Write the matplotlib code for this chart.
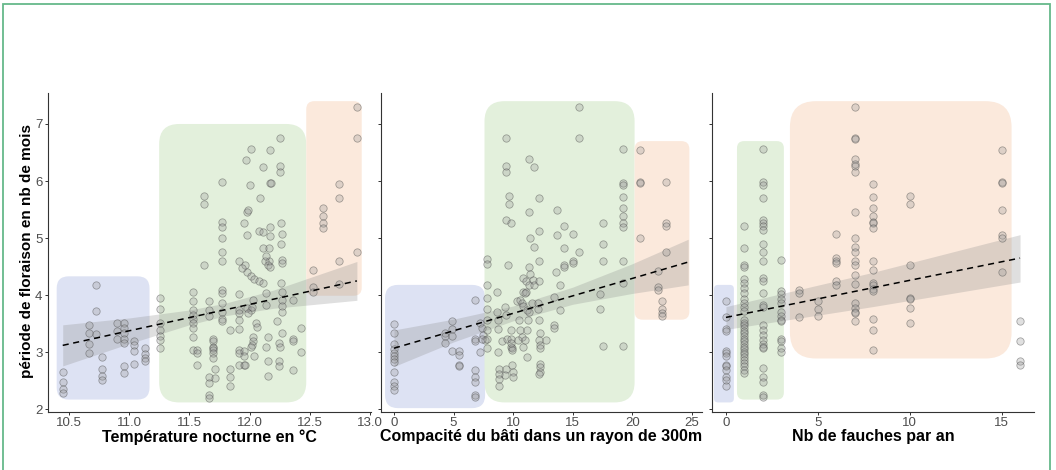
import numpy as np
import matplotlib
matplotlib.use('Agg')
import matplotlib.pyplot as plt
from matplotlib.patches import FancyBboxPatch, Rectangle

plt.rcParams['font.family'] = ['Liberation Sans', 'DejaVu Sans']

# --- Temperature nocturne (°C) vs periode de floraison (mois) ---
temp_x = [10.45, 10.45, 10.45, 10.45,
          10.73, 10.73, 10.73,
          10.67, 10.67, 10.67, 10.67,
          10.78, 10.78, 10.78, 10.78,
          10.90, 10.90, 10.90,
          10.96, 10.96, 10.96, 10.96, 10.96, 10.96, 10.96,
          11.04, 11.04, 11.04, 11.04,
          11.13, 11.13, 11.13, 11.13,
          11.26, 11.26, 11.26, 11.26, 11.26, 11.26, 11.26,
          11.53, 11.53, 11.53, 11.53, 11.53, 11.53, 11.53, 11.53, 11.53,
          11.56, 11.56, 11.56,
          11.62, 11.62, 11.62,
          11.66, 11.66, 11.66, 11.66, 11.66, 11.66, 11.66,
          11.70, 11.70, 11.70, 11.70, 11.70, 11.70, 11.70, 11.71, 11.71,
          11.77, 11.77, 11.77, 11.77, 11.77, 11.77, 11.77, 11.77, 11.77, 11.77, 11.77, 11.77,
          11.84, 11.84, 11.84, 11.84,
          11.91, 11.91, 11.91, 11.91, 11.91, 11.91, 11.91, 11.91, 11.91,
          11.97, 12.01, 12.00, 11.98, 11.99, 11.95, 11.98, 12.09, 12.08,
          11.96, 11.98, 12.01, 12.04, 12.08, 12.11, 11.94,
          11.98, 12.01, 12.03, 12.02, 11.99, 12.05, 12.06, 12.03, 12.03, 12.02, 12.01,
          11.95, 11.95, 11.95, 11.96, 12.04,
          12.11, 12.17, 12.17, 12.18, 12.11, 12.11, 12.16, 12.17, 12.17, 12.16,
          12.13, 12.14, 12.15, 12.17, 12.14, 12.14, 12.15, 12.14, 12.15, 12.15,
          12.25, 12.25, 12.25, 12.26, 12.27, 12.26, 12.27, 12.27, 12.26, 12.27,
          12.27, 12.27, 12.27, 12.23, 12.27, 12.24, 12.25, 12.24, 12.24,
          12.36, 12.36, 12.36, 12.36, 12.43, 12.43,
          12.53, 12.53, 12.53, 12.61, 12.61, 12.61, 12.61,
          12.74, 12.74, 12.74, 12.74, 12.89, 12.89, 12.89]
temp_y = [2.66, 2.47, 2.35, 2.29,
          4.17, 3.73, 3.32,
          3.48, 3.33, 3.14, 2.98,
          2.91, 2.70, 2.58, 2.51,
          3.52, 3.38, 3.24,
          3.51, 3.42, 3.33, 3.24, 3.16, 2.75, 2.63,
          3.20, 3.12, 3.03, 2.79,
          3.07, 2.97, 2.89, 2.84,
          3.95, 3.76, 3.52, 3.39, 3.29, 3.21, 3.07,
          4.06, 3.90, 3.74, 3.65, 3.58, 3.51, 3.42, 3.27, 3.04,
          3.04, 2.99, 2.78,
          5.73, 5.60, 4.53,
          3.89, 3.74, 3.64, 2.57, 2.46, 2.25, 2.19,
          3.23, 3.19, 3.10, 3.07, 3.04, 2.99, 2.89, 2.71, 2.54,
          5.98, 5.28, 5.20, 5.00, 4.75, 4.59, 4.09, 4.03, 3.86, 3.71, 3.59, 3.54,
          3.39, 2.70, 2.56, 2.40,
          4.60, 4.02, 3.74, 3.68, 3.57, 3.40, 3.04, 2.98, 2.78,
          6.37, 6.56, 5.93, 5.46, 5.50, 5.27, 5.06, 5.70, 5.13,
          4.53, 4.41, 4.33, 4.28, 4.24, 4.21, 4.47,
          3.78, 3.74, 3.92, 3.80, 3.68, 3.52, 3.45, 3.27, 3.20, 3.13, 3.10,
          3.02, 2.93, 2.78, 2.78, 2.93,
          6.25, 6.54, 5.97, 5.96, 5.11, 4.82, 4.82, 5.20, 5.03, 4.59,
          4.59, 4.68, 4.53, 4.50, 4.03, 3.83, 3.27, 3.10, 2.84, 2.58,
          6.75, 6.26, 6.15, 5.26, 5.07, 4.89, 4.62, 4.56, 4.21, 4.06,
          3.92, 3.81, 3.71, 3.55, 3.33, 3.16, 3.10, 2.84, 2.76,
          3.92, 3.23, 3.20, 2.69, 3.42, 3.01,
          4.44, 4.15, 4.06, 5.52, 5.39, 5.27, 5.17,
          5.95, 5.71, 4.59, 4.20, 7.29, 6.75, 4.76]
# linear trend and its 95% band
temp_fit_x = [10.45, 11.0, 11.5, 11.8, 12.2, 12.89]
temp_fit_lo = [2.76, 3.15, 3.48, 3.64, 3.77, 3.91]
temp_fit_hi = [3.48, 3.60, 3.74, 3.86, 4.09, 4.59]
temp_fit_line = [3.12, 4.25]

# --- Compacite du bati (rayon 300 m) ---
bati_x = [0, 0, 0, 0, 0, 0, 0, 0, 0, 0, 0, 0,
          4.28, 4.28, 4.28,
          4.84, 4.84, 4.84, 4.84,
          5.49, 5.49, 5.49, 5.49,
          6.80, 6.80, 6.80, 6.80, 6.80, 6.80, 6.80, 6.80,
          7.20, 7.35, 7.50, 7.60, 7.35, 7.20,
          7.84, 7.84, 7.84, 7.84, 7.84, 7.84, 7.84, 7.84, 7.84,
          8.68, 8.62, 8.75, 8.75, 8.75,
          8.85, 8.85, 8.85, 8.85,
          9.38, 9.38, 9.38, 9.66, 9.66, 9.38, 9.82, 9.60,
          9.32, 9.40, 9.10, 9.45, 9.40, 9.30,
          9.80, 9.85, 9.85, 9.90, 9.90, 9.85,
          9.90, 9.99, 9.99,
          10.30, 10.50, 10.58, 10.72, 10.44, 10.80, 11.14, 11.00, 11.14, 11.28,
          11.31, 11.42, 11.70, 10.86, 11.08, 11.33, 11.78, 10.86, 11.08, 11.00,
          10.58, 10.72, 10.86, 11.14, 11.56, 11.36, 12.10, 12.10,
          11.31, 11.75, 12.20, 11.31, 12.20, 11.42, 11.75, 12.20, 12.20, 12.20,
          12.26, 12.15, 12.30, 12.30, 12.26, 12.30, 12.30, 12.20,
          12.76, 13.40, 13.40,
          13.71, 13.71, 14.30, 14.30, 15.06, 15.56, 15.00, 15.00, 14.27, 14.27,
          13.60, 13.46, 13.94, 13.94, 15.56, 15.56,
          17.57, 17.57, 17.57, 17.30, 17.30, 17.57,
          19.20, 19.20, 19.20, 19.20, 19.20, 19.20, 19.20, 19.20, 19.20, 19.20, 19.20,
          20.68, 20.68, 20.68, 20.68,
          22.84, 22.84, 22.84, 22.84,
          22.20, 22.20, 22.20,
          22.50, 22.50, 22.50, 22.50]
bati_y = [3.49, 3.34, 3.14, 3.05, 2.98, 2.93, 2.88, 2.82, 2.66, 2.47, 2.40, 2.33,
          3.34, 3.29, 3.17,
          3.55, 3.40, 3.29, 3.03,
          3.02, 2.95, 2.78, 2.76,
          3.92, 3.23, 3.20, 2.69, 2.56, 2.47, 2.25, 2.22,
          3.52, 3.42, 3.30, 3.21, 3.23, 3.01,
          4.63, 4.55, 4.18, 3.95, 3.75, 3.57, 3.39, 3.24, 3.07,
          4.06, 3.71, 3.57, 3.40, 3.01,
          2.70, 2.62, 2.53, 2.40,
          6.75, 6.27, 6.15, 5.73, 5.60, 5.31, 5.27, 4.52,
          3.80, 3.65, 3.19, 3.24, 2.70, 2.60,
          3.39, 3.23, 3.10, 3.07, 3.04, 3.16,
          2.78, 2.66, 2.56,
          3.89, 3.57, 3.39, 3.27, 3.21, 3.10, 2.92, 3.21, 3.39, 3.57,
          4.50, 4.37, 4.27, 4.30, 4.24, 4.18, 4.18, 4.06, 4.06, 4.03,
          3.92, 3.86, 3.81, 3.74, 3.86, 3.71, 3.86, 3.75,
          6.38, 6.25, 5.70, 5.46, 5.13, 5.01, 4.84, 4.60, 4.24, 3.57,
          3.33, 3.22, 3.13, 3.07, 2.80, 2.74, 2.66, 2.62,
          3.21, 3.48, 3.42,
          5.49, 5.05, 5.21, 4.82, 5.08, 4.75, 4.60, 4.56, 4.53, 4.49,
          4.41, 3.97, 4.18, 3.74, 7.29, 6.75,
          5.26, 4.90, 4.60, 4.02, 3.76, 3.11,
          6.56, 5.96, 5.93, 5.72, 5.52, 5.39, 5.26, 5.20, 4.60, 4.21, 3.11,
          6.54, 5.98, 5.96, 5.01,
          5.98, 5.27, 5.21, 4.75,
          4.43, 4.15, 4.09,
          3.89, 3.75, 3.68, 3.64]
bati_fit_x = [0, 5, 10, 15, 20, 24.7]
bati_fit_lo = [2.75, 3.18, 3.55, 3.84, 4.03, 4.18]
bati_fit_hi = [3.39, 3.58, 3.81, 4.14, 4.55, 4.98]
bati_fit_line = [3.07, 4.58]

# --- Nb de fauches par an ---
fauche_x = [0] * 13 + [1] * 32 + [2] * 28 + [3] * 13 + [4] * 3 + [5] * 3 + \
           [6] * 6 + [7] * 20 + [8] * 16 + [10] * 7 + [15] * 7 + [16] * 4
fauche_y = [3.90, 3.61, 3.40, 3.38, 3.03, 2.98, 2.93, 2.78, 2.75, 2.68, 2.56, 2.51, 2.40,
            5.21, 4.82, 4.53, 4.50, 4.28, 4.21, 4.12, 4.03, 3.93, 3.86, 3.80, 3.73,
            3.57, 3.52, 3.48, 3.43, 3.38, 3.34, 3.29, 3.24, 3.20, 3.15, 3.10, 3.06,
            3.01, 2.96, 2.92, 2.87, 2.81, 2.75, 2.69, 2.63,
            6.56, 5.99, 5.93, 5.70, 5.31, 5.27, 5.21, 5.14, 4.90, 4.76, 4.60, 4.30,
            4.24, 4.04, 3.83, 3.80, 3.48, 3.39, 3.30, 3.22, 3.15, 3.09, 3.07, 2.72,
            2.56, 2.48, 2.25, 2.22,
            4.61, 4.08, 4.02, 3.93, 3.87, 3.71, 3.64, 3.57, 3.54, 3.23, 3.19, 3.07, 3.01,
            4.09, 4.03, 3.62,
            3.90, 3.75, 3.64,
            5.08, 4.65, 4.59, 4.56, 4.24, 4.18,
            7.29, 6.75, 6.73, 6.38, 6.30, 6.26, 6.15, 5.46, 5.00, 4.85,
            4.76, 4.59, 4.53, 4.35, 4.19, 3.86, 3.77, 3.71, 3.68, 3.55,
            5.95, 5.72, 5.52, 5.39, 5.29, 5.26, 5.18, 4.59, 4.44, 4.22,
            4.18, 4.10, 4.08, 3.59, 3.39, 3.04,
            5.73, 5.60, 4.52, 3.95, 3.93, 3.77, 3.52,
            6.54, 5.98, 5.96, 5.50, 5.05, 5.01, 4.41,
            3.55, 3.19, 2.84, 2.77]
fauche_fit_x = [0, 8, 16]
fauche_fit_lo = [3.40, 3.80, 4.23]
fauche_fit_hi = [3.80, 4.40, 5.06]
fauche_fit_line = [3.61, 4.65]

xlabels = ['Température nocturne en °C',
           'Compacité du bâti dans un rayon de 300m',
           'Nb de fauches par an']
ylabel = 'période de floraison en nb de mois'

BLUE, GREEN, ORANGE = '#dde2f3', '#e3f0dc', '#fbe9dc'

# panel settings: axes span (px), xlim, ticks, boxes (x0, x1, y0, y1, colour, corner px)
W, H = 1056, 470
panels = [
    dict(x=temp_x, y=temp_y, fx=temp_fit_x, lo=temp_fit_lo, hi=temp_fit_hi,
         line=temp_fit_line, px=(48, 371), xlim=(10.328, 13.007),
         ticks=np.arange(10.5, 13.01, 0.5), fmt='{:.1f}',
         boxes=[(10.40, 11.17, 2.17, 4.33, BLUE, 12),
                (11.25, 12.47, 2.12, 7.00, GREEN, 20),
                (12.47, 12.93, 3.99, 7.40, ORANGE, 8)]),
    dict(x=bati_x, y=bati_y, fx=bati_fit_x, lo=bati_fit_lo, hi=bati_fit_hi,
         line=bati_fit_line, px=(381, 702), xlim=(-1.09, 25.86),
         ticks=np.arange(0, 26, 5), fmt='{:.0f}',
         boxes=[(-0.75, 7.65, 2.02, 4.18, BLUE, 13),
                (7.60, 20.2, 2.12, 7.40, GREEN, 20),
                (20.2, 24.8, 3.57, 6.70, ORANGE, 8)]),
    dict(x=fauche_x, y=fauche_y, fx=fauche_fit_x, lo=fauche_fit_lo, hi=fauche_fit_hi,
         line=fauche_fit_line, px=(712, 1034), xlim=(-0.76, 16.76),
         ticks=np.arange(0, 16, 5), fmt='{:.0f}',
         boxes=[(-0.65, 0.43, 2.12, 4.18, BLUE, 4),
                (0.60, 3.15, 2.17, 6.70, GREEN, 7),
                (3.48, 15.54, 2.89, 7.40, ORANGE, 26)]),
]
YLIM = (1.961, 7.543)
TOP, BOTTOM = 93, 411.5

fig = plt.figure(figsize=(W / 100, H / 100), dpi=100)

for i, p in enumerate(panels):
    left, right = p['px']
    ax = fig.add_axes([left / W, (H - BOTTOM) / H, (right - left) / W, (BOTTOM - TOP) / H])
    ax.set_facecolor('white')
    ax.set_xlim(*p['xlim'])
    ax.set_ylim(*YLIM)

    # rounded group boxes, corner radius in pixels
    ux = (p['xlim'][1] - p['xlim'][0]) / (right - left)
    uy = (YLIM[1] - YLIM[0]) / (BOTTOM - TOP)
    for x0, x1, y0, y1, col, r in p['boxes']:
        ax.add_patch(FancyBboxPatch((x0, y0), x1 - x0, y1 - y0,
                                    boxstyle='round,pad=0,rounding_size=%f' % (r * ux),
                                    mutation_aspect=uy / ux,
                                    fc=col, ec='none', zorder=0.5))

    ax.fill_between(p['fx'], p['lo'], p['hi'], color='#8c8c8c', alpha=0.28, lw=0, zorder=1)
    ax.scatter(p['x'], p['y'], s=28, facecolor=(0.6, 0.6, 0.6, 0.3),
               edgecolor=(0.3, 0.3, 0.3, 0.5), linewidth=0.55, zorder=2)
    ax.plot([p['fx'][0], p['fx'][-1]], p['line'], color='black', lw=1.1,
            ls=(0, (4, 3)), zorder=3)

    for side in ['top', 'right']:
        ax.spines[side].set_visible(False)
    for side in ['left', 'bottom']:
        ax.spines[side].set_color('#333333')
        ax.spines[side].set_linewidth(0.8)

    ax.set_xticks(p['ticks'])
    ax.set_xticklabels([p['fmt'].format(v) for v in p['ticks']])
    ax.set_yticks(range(2, 8))
    if i > 0:
        ax.set_yticklabels([])
    ax.tick_params(length=2.5, width=0.7, color='#333333', pad=1.5,
                   labelsize=9.5, labelcolor='#4d4d4d')

    ax.set_xlabel(xlabels[i], fontsize=11.5, fontweight='bold', color='black')
    ax.xaxis.set_label_coords(0.5, -0.055)

fig.text(27 / W, (H - 251.5) / H, ylabel, rotation=90, ha='center', va='center',
         fontsize=11, fontweight='bold')

# frame around the figure
fig.add_artist(Rectangle((3.3 / W, -0.05), (1050 - 3.3) / W, (H - 3.7) / H + 0.05,
                         transform=fig.transFigure, fill=False,
                         ec='#66b98a', lw=1.3))

fig.savefig('out.png', dpi=100)
